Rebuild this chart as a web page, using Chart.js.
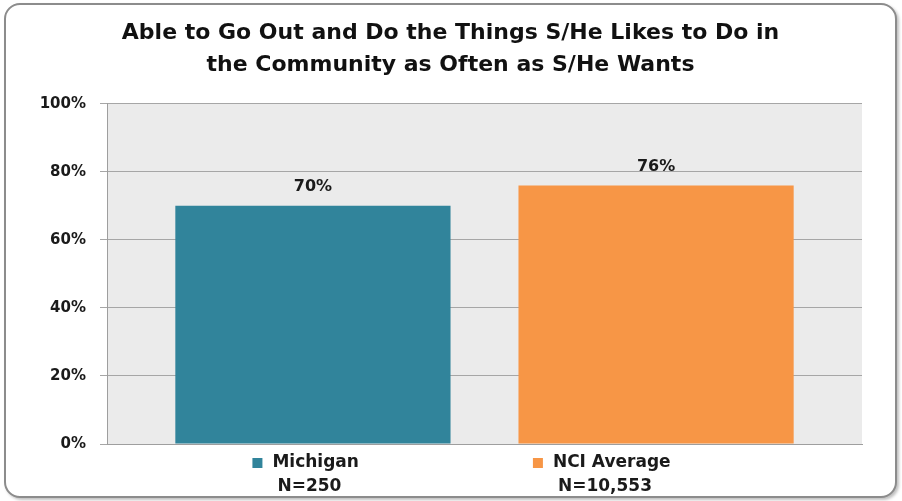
<!DOCTYPE html>
<html>
<head>
<meta charset="utf-8">
<script src="https://cdn.jsdelivr.net/npm/chart.js@4"></script>
<style>
  html, body { margin: 0; padding: 0; background: #fff; }
  #frame {
    position: absolute; left: 4px; top: 3px; width: 889px; height: 491px;
    border: 2px solid #8c8c8c; border-radius: 16px;
    box-shadow: 2px 2px 3px rgba(0,0,0,0.25);
    background: #fff;
  }
  #wrap { position: relative; width: 889px; height: 491px; }
</style>
</head>
<body>
<div id="frame"><div id="wrap"><canvas id="bar-chartcanvas"></canvas></div></div>
<script>
// chart data
var categories = [""];
var seriesNames = [["Michigan", "N=250"], ["NCI Average", "N=10,553"]];
var seriesValues = [[70], [76]];
var seriesColors = ["#31849B", "#F79646"];
var yTicks = [0, 20, 40, 60, 80, 100];

var fontFamily = "'DejaVu Sans', sans-serif";

// gray plot background
var plotBackground = {
  id: "plotBackground",
  beforeDraw: function (chart) {
    var a = chart.chartArea;
    var ctx = chart.ctx;
    ctx.save();
    ctx.fillStyle = "#ebebeb";
    ctx.fillRect(a.left, a.top, a.right - a.left, a.bottom - a.top);
    ctx.restore();
  },
};

// value labels above the bars
var valueLabels = {
  id: "valueLabels",
  afterDatasetsDraw: function (chart) {
    var ctx = chart.ctx;
    ctx.save();
    ctx.font = "bold 16px " + fontFamily;
    ctx.fillStyle = "#1a1a1a";
    ctx.textAlign = "center";
    ctx.textBaseline = "middle";
    chart.data.datasets.forEach(function (ds, i) {
      chart.getDatasetMeta(i).data.forEach(function (bar, j) {
        ctx.fillText(ds.data[j] + "%", bar.x, bar.y - 19);
      });
    });
    ctx.restore();
  },
};

// two-line legend under the plot, Excel style
var bottomLegend = {
  id: "bottomLegend",
  afterDraw: function (chart) {
    var ctx = chart.ctx;
    var gap = 174;
    var box = 10;
    ctx.save();
    ctx.font = "bold 17px " + fontFamily;
    ctx.textBaseline = "middle";
    ctx.textAlign = "left";
    var widths = chart.data.datasets.map(function (ds) {
      return box + 10 + ctx.measureText(ds.label[0]).width;
    });
    var total = widths.reduce(function (a, b) { return a + b; }, 0) + gap * (widths.length - 1);
    var x = chart.width / 2 + 11 - total / 2;
    var y1 = chart.chartArea.bottom + 19;
    var y2 = y1 + 24;
    chart.data.datasets.forEach(function (ds, i) {
      ctx.fillStyle = ds.backgroundColor;
      ctx.fillRect(x, y1 - box / 2, box, box);
      ctx.fillStyle = "#1a1a1a";
      ctx.fillText(ds.label[0], x + box + 10, y1);
      ctx.fillText(ds.label[1], x + box + 15, y2);
      x += widths[i] + gap;
    });
    ctx.restore();
  },
};

var data = {
  labels: categories,
  datasets: seriesNames.map(function (name, i) {
    return {
      label: name,
      data: seriesValues[i],
      backgroundColor: seriesColors[i],
      categoryPercentage: 0.909,
      barPercentage: 0.802,
    };
  }),
};

var options = {
  responsive: true,
  maintainAspectRatio: false,
  animation: false,
  layout: { padding: { left: 33, right: 33, top: 0, bottom: 0 } },
  plugins: {
    title: {
      display: true,
      text: [
        "Able to Go Out and Do the Things S/He Likes to Do in",
        "the Community as Often as S/He Wants",
      ],
      color: "#111",
      font: { family: fontFamily, size: 22, weight: "bold", lineHeight: 1.45 },
      padding: { top: 12, bottom: 23 },
    },
    legend: { display: false },
    tooltip: { enabled: false },
  },
  scales: {
    x: {
      grid: { display: false },
      border: { color: "#9e9e9e" },
      ticks: { display: false },
      afterFit: function (scale) {
        scale.height = 52;
      },
    },
    y: {
      min: 0,
      max: 100,
      afterBuildTicks: function (scale) {
        scale.ticks = yTicks.map(function (v) { return { value: v }; });
      },
      afterFit: function (scale) {
        scale.width = 68;
      },
      grid: { color: "#a6a6a6", tickLength: 7 },
      border: { color: "#9e9e9e" },
      ticks: {
        color: "#1a1a1a",
        padding: 14,
        font: { family: fontFamily, size: 15, weight: "bold" },
        callback: function (v) { return v + "%"; },
      },
    },
  },
};

var chart = new Chart(document.getElementById("bar-chartcanvas"), {
  type: "bar",
  data: data,
  options: options,
  plugins: [plotBackground, valueLabels, bottomLegend],
});
</script>
</body>
</html>
